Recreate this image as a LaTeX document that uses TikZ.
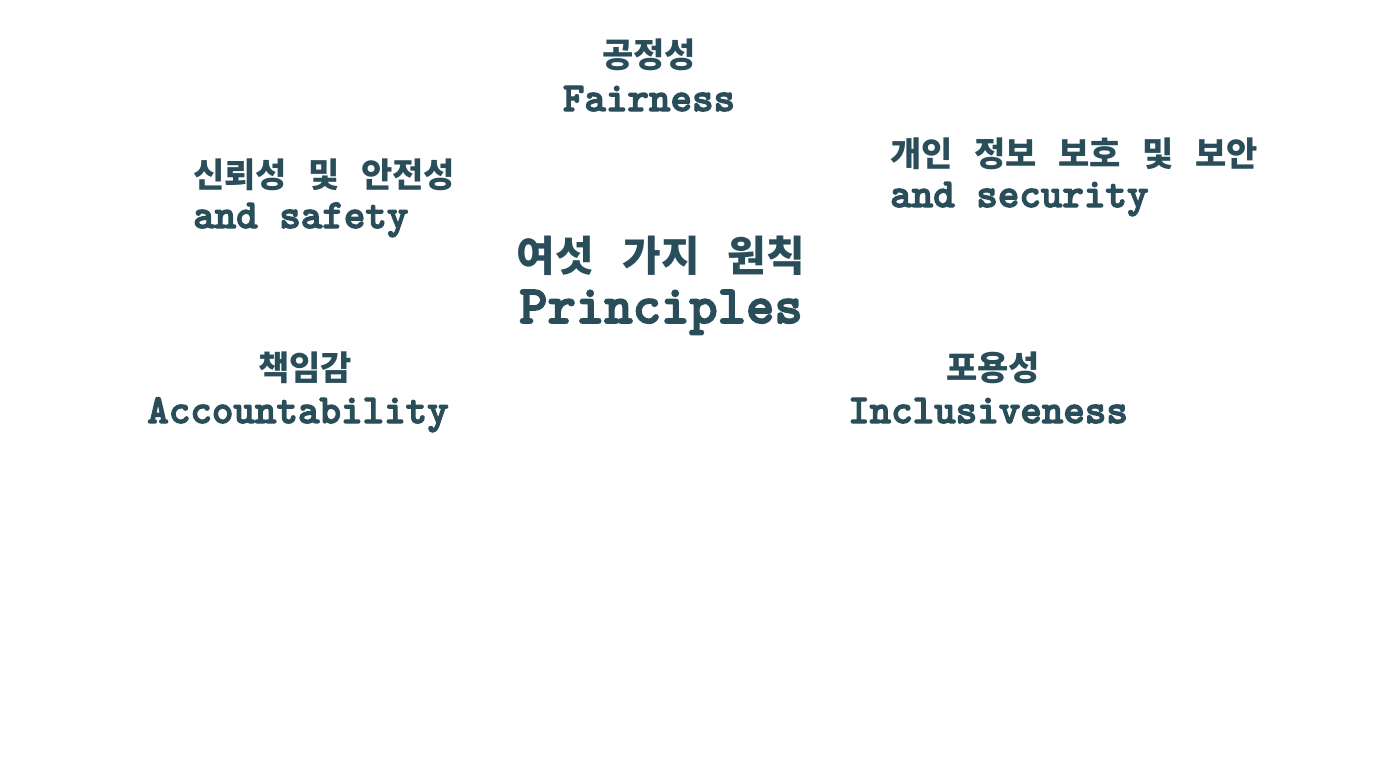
\documentclass[tikz,border=0pt]{standalone}
\usepackage{fontspec}
\setmainfont{Liberation Mono}
\newfontfamily\cour{lmmonolt10-bold.otf}[FakeBold=3]
\newfontfamily\kr{Noto Sans CJK KR}
\definecolor{ink}{HTML}{2A4D5A}
\tikzset{
  small/.style={font=\cour\fontsize{41}{44}\selectfont, text=ink, inner sep=0pt},
  big/.style={font=\cour\fontsize{54}{58}\selectfont, text=ink, inner sep=0pt},
}
\newcommand{\ks}[1]{{\kr\bfseries\fontsize{34}{36}\selectfont #1}}
\newcommand{\kb}[1]{{\kr\bfseries\fontsize{42}{44}\selectfont #1}}
\begin{document}
\begin{tikzpicture}[x=1pt,y=-1pt]
\useasboundingbox[fill=white] (0,0) rectangle (1392,768);
% Fairness
\node[small, anchor=base] (fk) at (649,67) {\ks{공정성}};
\node[small, anchor=base] (fe) at (649,111) {Fairness};
% Reliability
\node[small, anchor=base west] (rk) at (193,187) {\ks{신뢰성} \ks{및} \ks{안전성}};
\node[small, anchor=base west] (re) at (193,228) {and safety};
% Privacy
\node[small, anchor=base west] (pk) at (890,166) {\ks{개인} \ks{정보} \ks{보호} \ks{및} \ks{보안}};
\node[small, anchor=base west] (pe) at (890,207) {and security};
% Center
\node[big, anchor=base] (ck) at (661,271) {\kb{여섯} \kb{가지} \kb{원칙}};
\node[big, anchor=base] (ce) at (661,323) {Principles};
% Accountability
\node[small, anchor=base] (ak) at (305,380) {\ks{책임감}};
\node[small, anchor=base] (ae) at (298,423) {Accountability};
% Inclusiveness
\node[small, anchor=base] (ik) at (993,380) {\ks{포용성}};
\node[small, anchor=base] (ie) at (988,423) {Inclusiveness};
\end{tikzpicture}
\end{document}
